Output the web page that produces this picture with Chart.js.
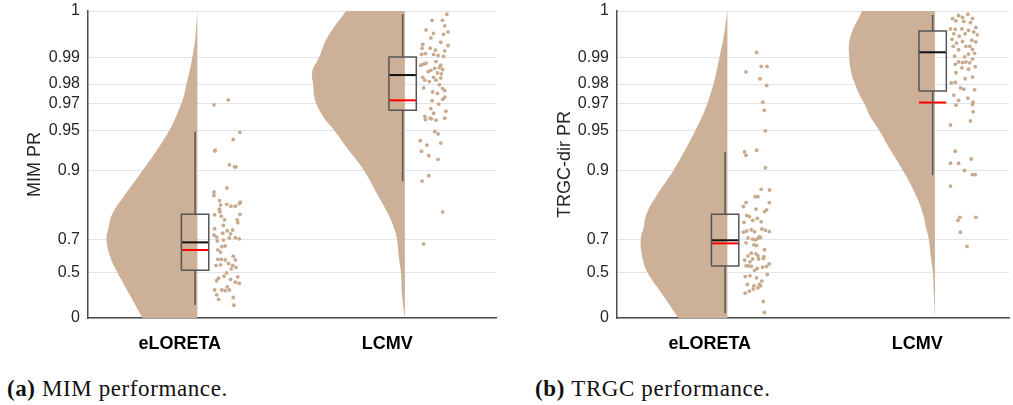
<!DOCTYPE html>
<html>
<head>
<meta charset="utf-8">
<script src="https://cdn.jsdelivr.net/npm/chart.js@4.4.0/dist/chart.umd.min.js"></script>
<style>
  body { margin: 0; background: #fff; width: 1013px; height: 405px; position: relative; overflow: hidden; }
  .panel { position: absolute; top: 0; }
  .cap { position: absolute; top: 377px; font-family: "Liberation Serif", serif; font-size: 23px; letter-spacing: 0.6px; color: #111; line-height: 1; white-space: nowrap; }
</style>
</head>
<body>
<div class="panel" style="left:0px"><canvas id="mim" width="500" height="360"></canvas></div>
<div class="panel" style="left:510px"><canvas id="trgc" width="503" height="360"></canvas></div>
<div class="cap" style="left:7px"><b>(a)</b>&nbsp;MIM performance.</div>
<div class="cap" style="left:535px"><b>(b)</b>&nbsp;TRGC performance.</div>
<script>
// categories and y axis ticks
var categories = ['eLORETA', 'LCMV'];
var yTicks = [0, 0.5, 0.7, 0.9, 0.95, 0.97, 0.98, 0.99, 1];
var yTickLabels = ['0', '0.5', '0.7', '0.9', '0.95', '0.97', '0.98', '0.99', '1'];

// violin outline: PR levels and half-violin widths (in category units)
var violinLevels = [0, 0.3, 0.5, 0.6, 0.7, 0.75, 0.8, 0.85, 0.9, 0.93, 0.95, 0.96, 0.97, 0.975, 0.98, 0.985, 0.99, 0.995, 1];
var mimEloretaViolin = [.264, .327, .385, .418, .438, .428, .409, .351, .264, .192, .135, .106, .077, .063, .053, .038, .024, .010, 0];
var mimLcmvViolin = [0, .014, .019, .029, .038, .053, .082, .130, .197, .274, .341, .389, .428, .438, .442, .447, .413, .375, .284];
var trgcEloretaViolin = [.236, .313, .385, .409, .418, .404, .389, .341, .260, .202, .154, .125, .096, .082, .067, .053, .038, .019, 0];
var trgcLcmvViolin = [0, .005, .010, .019, .029, .043, .058, .091, .154, .216, .269, .308, .341, .365, .385, .404, .413, .409, .351];

// box stats: [whisker low, q1, median, q3, whisker high, mean]
var mimEloretaBox = [0.179, 0.517, 0.686, 0.7975, 0.9486, 0.6465];
var mimLcmvBox = [0.881, 0.9655, 0.9838, 0.990, 0.9995, 0.9717];
var trgcEloretaBox = [0.069, 0.548, 0.696, 0.7975, 0.927, 0.681];
var trgcLcmvBox = [0.892, 0.9767, 0.9914, 0.9965, 0.9994, 0.9704];

// raw points: jitter offset from category and PR value
var mimEloretaJit = [.165,.234,.290,.258,.171,.168,.239,.264,.271,.227,.165,.165,.192,.292,.287,.197,.226,.247,.268,.191,.290,.168,.194,.200,.216,.277,.280,.210,.255,.168,.229,.207,.245,.165,.178,.239,.268,.287,.181,.210,.219,.203,.184,.197,.258,.268,.184,.200,.219,.235,.255,.271,.175,.197,.248,.226,.280,.187,.178,.213,.245,.268,.287,.229,.168,.203,.219,.239,.178,.258,.187,.261];
var mimEloretaVal = [.969,.972,.948,.941,.929,.928,.909,.906,.906,.867,.858,.850,.837,.833,.829,.825,.827,.822,.822,.813,.797,.796,.805,.791,.779,.779,.769,.759,.741,.746,.738,.728,.725,.719,.711,.707,.708,.703,.693,.697,.668,.665,.647,.635,.611,.588,.592,.592,.588,.565,.552,.538,.552,.556,.528,.497,.466,.455,.433,.471,.445,.421,.409,.377,.347,.347,.340,.347,.297,.268,.247,.176];

var mimLcmvJit = [.287,.216,.266,.277,.187,.293,.223,.271,.210,.258,.171,.293,.168,.207,.232,.277,.165,.184,.223,.245,.271,.235,.175,.162,.187,.258,.229,.251,.210,.267,.197,.242,.261,.171,.223,.258,.235,.181,.203,.251,.175,.267,.219,.277,.242,.267,.216,.277,.248,.210,.283,.223,.181,.277,.213,.235,.207,.184,.229,.245,.159,.191,.258,.165,.200,.245,.200,.168,.267,.175];
var mimLcmvVal = [.9995,.9985,.9985,.9975,.9967,.9963,.9960,.9958,.9950,.9940,.9935,.9932,.9925,.9925,.9920,.9918,.9908,.9910,.9908,.9905,.9902,.9886,.9878,.9874,.9881,.9874,.9863,.9866,.9856,.9859,.9851,.9846,.9843,.9829,.9829,.9826,.9817,.9817,.9811,.9797,.9782,.9779,.9762,.9769,.9755,.9723,.9715,.9735,.9695,.9666,.9649,.9635,.9613,.9599,.9594,.9584,.9599,.9589,.9488,.9465,.9398,.9350,.9372,.9278,.9220,.9170,.891,.881,.805,.679];

var trgcEloretaJit = [.226,.175,.248,.276,.242,.274,.256,.263,.268,.168,.175,.226,.268,.248,.288,.219,.232,.175,.287,.162,.223,.274,.264,.178,.191,.229,.207,.165,.248,.162,.178,.200,.216,.251,.268,.287,.239,.184,.207,.219,.232,.245,.175,.213,.226,.264,.200,.223,.184,.232,.261,.207,.235,.258,.168,.194,.175,.187,.200,.229,.255,.274,.287,.216,.277,.171,.194,.226,.251,.181,.213,.232,.239,.245,.191,.210,.171,.258,.263];
var trgcEloretaVal = [.9914,.985,.987,.987,.9823,.9794,.9706,.9655,.9494,.9268,.9225,.929,.9045,.864,.8625,.847,.847,.832,.832,.821,.8135,.8115,.806,.794,.790,.7838,.7775,.770,.772,.732,.737,.742,.734,.745,.740,.734,.712,.707,.701,.698,.704,.709,.684,.674,.670,.648,.629,.625,.613,.613,.609,.594,.594,.597,.586,.576,.549,.549,.545,.531,.540,.545,.563,.517,.485,.468,.474,.458,.430,.400,.387,.368,.400,.387,.336,.356,.315,.222,.08];

var trgcLcmvJit = [.199,.244,.218,.266,.170,.186,.224,.256,.282,.160,.183,.215,.247,.272,.176,.231,.202,.289,.167,.263,.218,.189,.282,.173,.234,.253,.266,.199,.247,.276,.180,.228,.266,.199,.218,.234,.253,.183,.279,.215,.247,.186,.266,.231,.164,.183,.208,.224,.276,.176,.244,.199,.269,.266,.186,.269,.256,.160,.183,.160,.199,.260,.228,.266,.279,.160,.205,.196,.282,.208,.240];
var trgcLcmvVal = [.9993,.9995,.9990,.9988,.9988,.9984,.9983,.9981,.9972,.9969,.9968,.9969,.9966,.9963,.9959,.9959,.9954,.9957,.9947,.9945,.9942,.9938,.9941,.9930,.9930,.9930,.9922,.9921,.9909,.9911,.9903,.9901,.9894,.9885,.9883,.9885,.9882,.9877,.9869,.9865,.9860,.9847,.9830,.9823,.9805,.9808,.9782,.9776,.9773,.9746,.9730,.9717,.9706,.9692,.9688,.9645,.9578,.9545,.9278,.9115,.9115,.9175,.900,.893,.893,.871,.7875,.7775,.7875,.732,.666];

// axis is stretched near 1, like log(1.01 - PR)
function tr(v) { return -Math.log(1.01 - v); }

var tan = 'rgb(204,176,151)';
var dotColor = 'rgb(200,170,142)';
var edge = 0.085;   // flat side of half violin
var boxX = 0.074;   // box centre offset
var boxW = 0.066;   // box half width
var font = '"Liberation Sans", Arial, sans-serif';

function violin(cat, widths) {
  return {
    type: 'line', indexAxis: 'y', order: 10,
    data: violinLevels.map(function (v, i) { return {x: cat + edge - widths[i], y: tr(v)}; }),
    fill: {value: cat + edge},
    backgroundColor: tan, borderWidth: 0, pointRadius: 0,
    tension: 0.4
  };
}

function seg(pts, color, w) {
  return {
    type: 'line', order: 1, data: pts, borderColor: color, borderWidth: w,
    pointRadius: 0, fill: false, tension: 0
  };
}

function boxplot(cat, b) {
  var c = cat + boxX, l = c - boxW, r = c + boxW;
  return [
    seg([{x: c, y: tr(b[0])}, {x: c, y: tr(b[1])}], '#555', 1.5),
    seg([{x: c, y: tr(b[3])}, {x: c, y: tr(b[4])}], '#555', 1.5),
    seg([{x: l, y: tr(b[1])}, {x: r, y: tr(b[1])}, {x: r, y: tr(b[3])}, {x: l, y: tr(b[3])}, {x: l, y: tr(b[1])}], '#555', 1.5),
    seg([{x: l, y: tr(b[5])}, {x: r, y: tr(b[5])}], '#ff0000', 2),
    seg([{x: l, y: tr(b[2])}, {x: r, y: tr(b[2])}], '#111', 2)
  ];
}

function dots(cat, jit, val) {
  return {
    type: 'scatter', order: 5,
    data: val.map(function (v, i) { return {x: cat + jit[i], y: tr(v)}; }),
    backgroundColor: dotColor, borderWidth: 0, pointRadius: 1.9
  };
}

function makePanel(id, title, yWidth, titlePad, xMin, xMax, violins, boxes, jits, vals) {
  var ds = [];
  for (var k = 0; k < 2; k++) {
    ds.push(violin(k + 1, violins[k]));
    ds = ds.concat(boxplot(k + 1, boxes[k]));
    ds.push(dots(k + 1, jits[k], vals[k]));
  }
  return new Chart(document.getElementById(id).getContext('2d'), {
    type: 'scatter',
    data: {datasets: ds},
    options: {
      responsive: false,
      animation: false,
      events: [],
      layout: {padding: {top: 11, right: 3, left: 0, bottom: 0}},
      plugins: {legend: {display: false}, tooltip: {enabled: false}},
      scales: {
        x: {
          type: 'linear', min: xMin, max: xMax,
          afterBuildTicks: function (s) { s.ticks = [{value: 1}, {value: 2}]; },
          afterFit: function (s) { s.height = 42; s.paddingLeft = 0; s.paddingRight = 0; },
          ticks: {
            autoSkip: false, maxRotation: 0, padding: 15, color: '#000',
            font: {family: font, size: 18, weight: 'bold'},
            callback: function (v, i) { return categories[i]; }
          },
          grid: {display: false, drawTicks: false},
          border: {color: '#4d4d4d', width: 1.5}
        },
        y: {
          type: 'linear', min: tr(0), max: tr(1),
          afterBuildTicks: function (s) { s.ticks = yTicks.map(function (v) { return {value: tr(v)}; }); },
          afterFit: function (s) { s.width = yWidth; s.paddingTop = 0; s.paddingBottom = 0; },
          ticks: {
            autoSkip: false, padding: 8, color: '#262626',
            font: {family: font, size: 16},
            callback: function (v, i) { return yTickLabels[i]; }
          },
          grid: {color: '#e4e4e4', lineWidth: 1, drawTicks: false},
          border: {color: '#4d4d4d', width: 1.5},
          title: {
            display: true, text: title, color: '#262626',
            font: {family: font, size: 18},
            padding: {top: titlePad, bottom: 0}
          }
        }
      }
    }
  });
}

makePanel('mim', 'MIM PR', 88, 24, 0.558, 2.524,
  [mimEloretaViolin, mimLcmvViolin], [mimEloretaBox, mimLcmvBox],
  [mimEloretaJit, mimLcmvJit], [mimEloretaVal, mimLcmvVal]);

makePanel('trgc', 'TRGC-dir PR', 107, 44, 0.553, 2.442,
  [trgcEloretaViolin, trgcLcmvViolin], [trgcEloretaBox, trgcLcmvBox],
  [trgcEloretaJit, trgcLcmvJit], [trgcEloretaVal, trgcLcmvVal]);
</script>
</body>
</html>
